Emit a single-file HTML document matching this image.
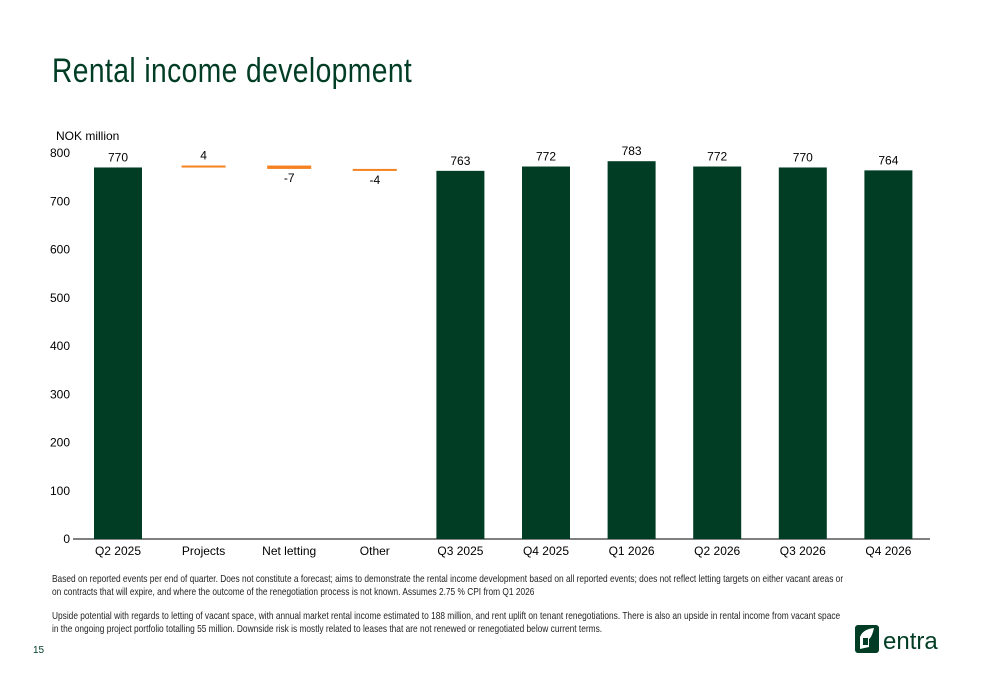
<!DOCTYPE html>
<html><head><meta charset="utf-8">
<style>
body{margin:0;width:1000px;height:685px;background:#fff;font-family:"Liberation Sans",sans-serif;position:relative;overflow:hidden}
.title{position:absolute;left:52px;top:52px;font-size:34px;color:#003d24;font-family:"Liberation Sans",sans-serif;letter-spacing:0.5px;transform:scaleX(0.83);transform-origin:left}
.note{position:absolute;left:52px;font-size:10.5px;color:#222;line-height:13px;white-space:nowrap;transform:scaleX(0.794);transform-origin:left}
</style></head><body>
<div class="title">Rental income development</div>
<svg id="chart" width="1000" height="685" style="position:absolute;left:0;top:0"></svg>
<div class="note" style="top:573px">Based on reported events per end of quarter. Does not constitute a forecast; aims to demonstrate the rental income development based on all reported events; does not reflect letting targets on either vacant areas or<br>on contracts that will expire, and where the outcome of the renegotiation process is not known. Assumes 2.75 % CPI from Q1 2026</div>
<div class="note" style="top:610px">Upside potential with regards to letting of vacant space, with annual market rental income estimated to 188 million, and rent uplift on tenant renegotiations. There is also an upside in rental income from vacant space<br>in the ongoing project portfolio totalling 55 million. Downside risk is mostly related to leases that are not renewed or renegotiated below current terms.</div>
<div style="position:absolute;left:33px;top:645px;font-size:10px;color:#003d24">15</div>
<div style="position:absolute;left:855px;top:623px">
<svg width="100" height="34"><rect x="0" y="2" width="24" height="28" rx="3" fill="#003d24"/><path d="M5 26 L5 14 Q8 6 19 5 Q17 14 14 16 L14 24 Z" fill="#fff"/><rect x="8" y="15" width="5" height="7" fill="#003d24"/>
<text x="28" y="26" font-size="24" fill="#003d24" font-family="Liberation Sans, sans-serif">entra</text></svg></div>
<script>
const categories=["Q2 2025","Projects","Net letting","Other","Q3 2025","Q4 2025","Q1 2026","Q2 2026","Q3 2026","Q4 2026"];
const values=[770,4,-7,-4,763,772,783,772,770,764];
const isTotal=[true,false,false,false,true,true,true,true,true,true];
const yTicks=[0,100,200,300,400,500,600,700,800];
const svg=document.getElementById('chart');const NS="http://www.w3.org/2000/svg";
const y0=539,pxPer=386/800,x0=118,step=85.6,bw=48;
const Y=v=>y0-v*pxPer, X=i=>x0+i*step;
function mk(t,a){const e=document.createElementNS(NS,t);for(const k in a)e.setAttribute(k,a[k]);svg.appendChild(e);return e;}
let t=mk('text',{x:56,y:140,'font-size':12,fill:'#000'});t.textContent="NOK million";


yTicks.forEach(v=>{const l=mk('text',{x:70,y:Y(v)+4,'font-size':12,'text-anchor':'end',fill:'#000'});l.textContent=v;

});
const ax=mk('line',{x1:73,x2:930,y1:y0,y2:y0,stroke:'#000'});


let run=0;
categories.forEach((c,i)=>{
 const cx=X(i);let r,lab,ly;
 if(isTotal[i]){run=values[i];r=mk('rect',{x:cx-bw/2,y:Y(values[i]),width:bw,height:y0-Y(values[i]),fill:'#003d24'});ly=Y(values[i])-6;}
 else{const a=run,b=run+values[i];run=b;const top=Y(Math.max(a,b)),h=Math.max(2,Math.abs(Y(a)-Y(b)));
  r=mk('rect',{x:cx-bw/2+2,y:top,width:bw-4,height:h,fill:'#f58220'});ly=values[i]>0?top-6:top+h+13;}
 
 
 lab=mk('text',{x:cx,y:ly,'font-size':12,'text-anchor':'middle',fill:'#000'});lab.textContent=values[i];
 
 
 const xl=mk('text',{x:cx,y:555,'font-size':12,'text-anchor':'middle',fill:'#000'});xl.textContent=c;
 
 
});
</script>
</body></html>
